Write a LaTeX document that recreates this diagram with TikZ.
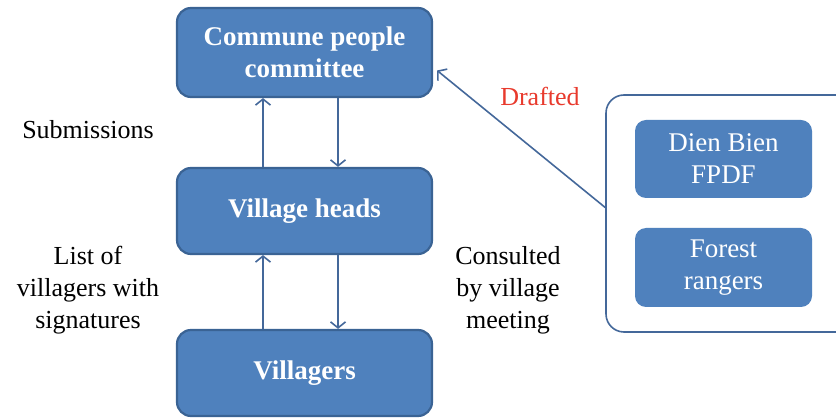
\documentclass[tikz,border=0pt]{standalone}
\usepackage{fontspec}
\setmainfont{Liberation Serif}
\usetikzlibrary{arrows.meta, positioning}

\definecolor{boxblue}{HTML}{4F81BD}
\definecolor{boxedge}{HTML}{3A6394}
\definecolor{linkblue}{HTML}{44689A}
\definecolor{draftred}{RGB}{232,58,45}

\tikzset{
  orgbox/.style={rectangle, rounded corners=14pt, fill=boxblue, draw=boxedge, line width=2.2pt,
    minimum width=255pt, text=white, align=center, inner sep=0pt,
    font=\fontsize{27}{32}\selectfont\bfseries},
  agencybox/.style={rectangle, rounded corners=11pt, fill=boxblue, draw=none,
    minimum width=177pt, text=white, align=center, inner sep=0pt,
    font=\fontsize{27}{32}\selectfont},
  sidetext/.style={align=center, inner sep=0pt, font=\fontsize{26}{32}\selectfont},
  link/.style={-{Straight Barb[length=6pt,width=15pt]}, draw=linkblue, line width=1.6pt}
}

\begin{document}
\begin{tikzpicture}[x=1pt, y=-1pt]
    \useasboundingbox (0,0) rectangle (836,419);

    % Main chain of boxes
    \node[orgbox, minimum height=89pt] (commune) at (304.5,52.5) {Commune people\\committee};
    \node[orgbox, minimum height=86pt] (heads) at (304.5,211) {Village heads};
    \node[orgbox, minimum height=86pt] (villagers) at (304.5,373) {Villagers};

    % Agencies panel on the right (runs off the page)
    \node[rectangle, rounded corners=18pt, draw=linkblue, line width=1.6pt, fill=white,
      minimum width=270pt, minimum height=237pt] (panel) at (741,213.5) {};
    \node[agencybox, minimum height=78pt] (fpdf) at (723.5,159) {Dien Bien\\FPDF};
    \node[agencybox, minimum height=79pt] (rangers) at (723.5,267.5) {Forest\\rangers};

    % Up and down links
    \draw[link] ([xshift=-41.5pt]heads.north) -- ([xshift=-41.5pt]commune.south);
    \draw[link] ([xshift=33.5pt]commune.south) -- ([xshift=33.5pt]heads.north);
    \draw[link] ([xshift=-41.5pt]villagers.north) -- ([xshift=-41.5pt]heads.south);
    \draw[link] ([xshift=33.5pt]heads.south) -- ([xshift=33.5pt]villagers.north);

    % Drafting link
    \draw[link] ([yshift=6pt]panel.west) -- ([xshift=4pt,yshift=-18pt]commune.east);

    % Labels
    \node[sidetext] (submit) at (88,130) {Submissions};
    \node[sidetext] (lists) at (88,290) {List of\\villagers with\\signatures};
    \node[sidetext] (consult) at (508,290) {Consulted\\by village\\meeting};
    \node[sidetext, text=draftred] (drafted) at (540,96) {Drafted};
\end{tikzpicture}
\end{document}
